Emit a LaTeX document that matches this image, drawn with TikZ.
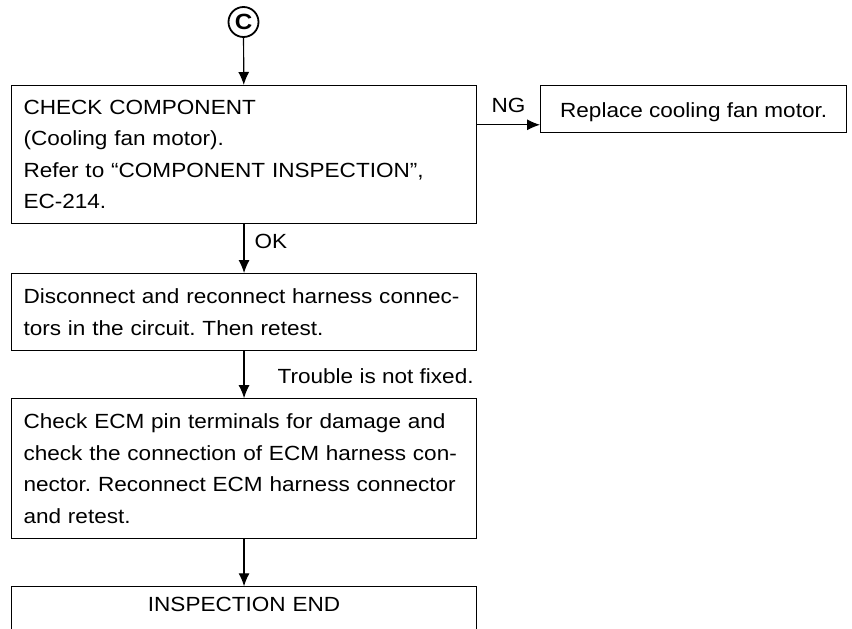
\documentclass[tikz,border=0pt]{standalone}
\usepackage{fontspec}
\setmainfont{Liberation Sans}[FakeStretch=1.1]
\usetikzlibrary{positioning,arrows.meta}
\frenchspacing
\tikzset{
  stepbox/.style={draw, line width=1.1pt, text width=441pt, inner xsep=12pt,
    align=left, font=\fontsize{20.5}{31.5}\selectfont},
  flow/.style={-{Latex[length=13pt,width=11pt]}, line width=1.2pt},
  lbl/.style={font=\fontsize{20.5}{24}\selectfont, inner sep=0pt}
}
\begin{document}
\begin{tikzpicture}[x=1pt,y=1pt]
\useasboundingbox (0,0) rectangle (852,-629);
\node[circle, draw, line width=1.8pt, minimum size=30pt, inner sep=0pt,
  font=\fontsize{22}{22}\selectfont\bfseries] (circC) at (243.5,-22) {C};

\node[stepbox, minimum height=138pt, anchor=north west] (chk) at (11,-85)
  {CHECK COMPONENT\\(Cooling fan motor).\\Refer to “COMPONENT INSPECTION”,\\EC-214.};
\node[stepbox, minimum height=77pt, below=49pt of chk] (recon)
  {Disconnect and reconnect harness connec-\\tors in the circuit. Then retest.};
\node[stepbox, minimum height=140pt, below=47pt of recon] (ecm)
  {Check ECM pin terminals for damage and\\check the connection of ECM harness con-\\nector. Reconnect ECM harness connector\\and retest.};
\node[stepbox, align=center, inner ysep=0pt, text height=25pt, text depth=45pt,
  below=47pt of ecm] (fin) {INSPECTION END};
\node[draw, line width=1.1pt, minimum width=306pt, inner sep=0pt, text height=31.7pt,
  text depth=15pt, font=\fontsize{20.5}{24}\selectfont,
  right=63pt of chk.north east, anchor=north west] (rep) {Replace cooling fan motor.};

\draw[flow] (circC) -- (chk);
\draw[flow] (chk) -- node[lbl, pos=.35, right=10pt] {OK} (recon);
\draw[flow] (recon) -- node[lbl, pos=.53, right=33pt] {Trouble is not fixed.} (ecm);
\draw[flow] (ecm) -- (fin);
\draw[flow] ([yshift=8pt]rep.south west -| chk.east) --
  node[lbl, above=12pt] {NG} ([yshift=8pt]rep.south west);
\end{tikzpicture}
\end{document}
